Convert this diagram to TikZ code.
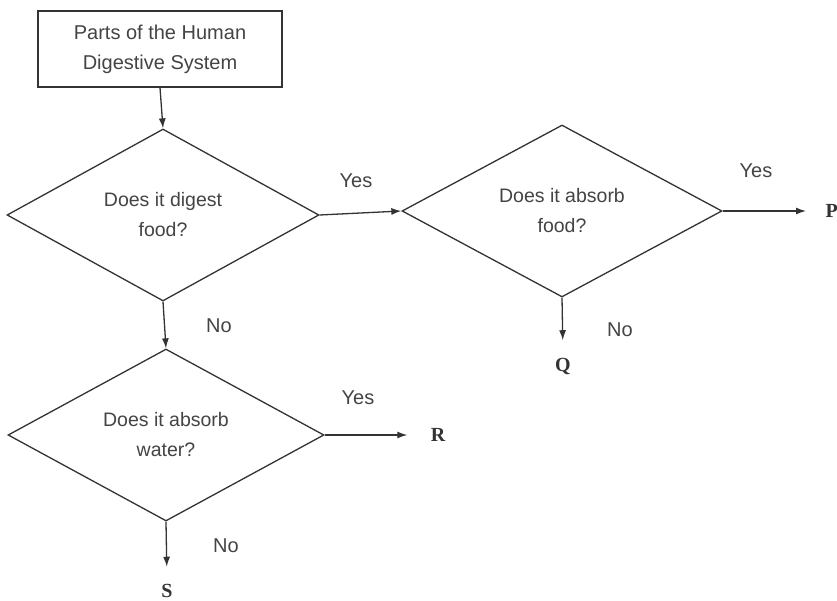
\documentclass[tikz,border=0pt]{standalone}
\usepackage{fontspec}
\setmainfont{Liberation Sans}
\newfontfamily\letterfont{Liberation Serif}
\usetikzlibrary{shapes.geometric,arrows.meta}
\definecolor{inkline}{HTML}{333333}
\definecolor{inktext}{HTML}{444444}
\tikzset{
    startbox/.style={draw=inkline, line width=1.3pt, rectangle, minimum width=244pt, minimum height=76pt,
            inner sep=0pt, align=center, text=inktext, font=\fontsize{20}{30}\selectfont},
    question/.style={draw=inkline, line width=1.3pt, diamond, aspect=1.8, inner sep=0pt,
            minimum width=312pt, minimum height=172pt, align=center, text=inktext, font=\fontsize{19.5}{30}\selectfont},
    answer/.style={text=inktext, font=\fontsize{20}{24}\selectfont},
    result/.style={text=inkline, font=\letterfont\bfseries\fontsize{20}{24}\selectfont},
    flow/.style={draw=inkline, line width=1.3pt, -{Latex[length=10pt,width=7pt]}},
}
\begin{document}
\begin{tikzpicture}[x=1pt, y=-1pt]
        \useasboundingbox[fill=white] (0, 0) rectangle (837, 601);
        %draw start box and questions
        \node[startbox] (parts) at (160, 49) {Parts of the Human\\Digestive System};
        \node[question] (digest) at (163, 215) {Does it digest\\food?};
        \node[question, minimum width=320pt] (absorbfood) at (562, 211) {Does it absorb\\food?};
        \node[question, minimum width=316pt] (absorbwater) at (166, 435) {Does it absorb\\water?};
        %draw results
        \node[result, anchor=west] (P) at (822, 211) {P};
        \node[result] (Q) at (563, 366) {Q};
        \node[result] (R) at (438, 435) {R};
        \node[result] (S) at (167, 591) {S};
        %draw arrows
        \draw[flow] (parts.south) -- (digest.north);
        \draw[flow] (digest.east) -- (absorbfood.west);
        \draw[flow, shorten >=16pt] (absorbfood.east) -- (P.west);
        \draw[flow, shorten >=14pt] (absorbfood.south) -- (Q.north);
        \draw[flow] (digest.south) -- (absorbwater.north);
        \draw[flow, shorten >=20pt] (absorbwater.east) -- (R.west);
        \draw[flow, shorten >=14pt] (absorbwater.south) -- (S.north);
        %label arrows
        \node[answer] (yes1) at (356, 181) {Yes};
        \node[answer] (no1) at (219, 326) {No};
        \node[answer] (yes2) at (756, 171) {Yes};
        \node[answer] (no2) at (620, 330) {No};
        \node[answer] (yes3) at (358, 398) {Yes};
        \node[answer] (no3) at (226, 546) {No};
    \end{tikzpicture}
\end{document}
